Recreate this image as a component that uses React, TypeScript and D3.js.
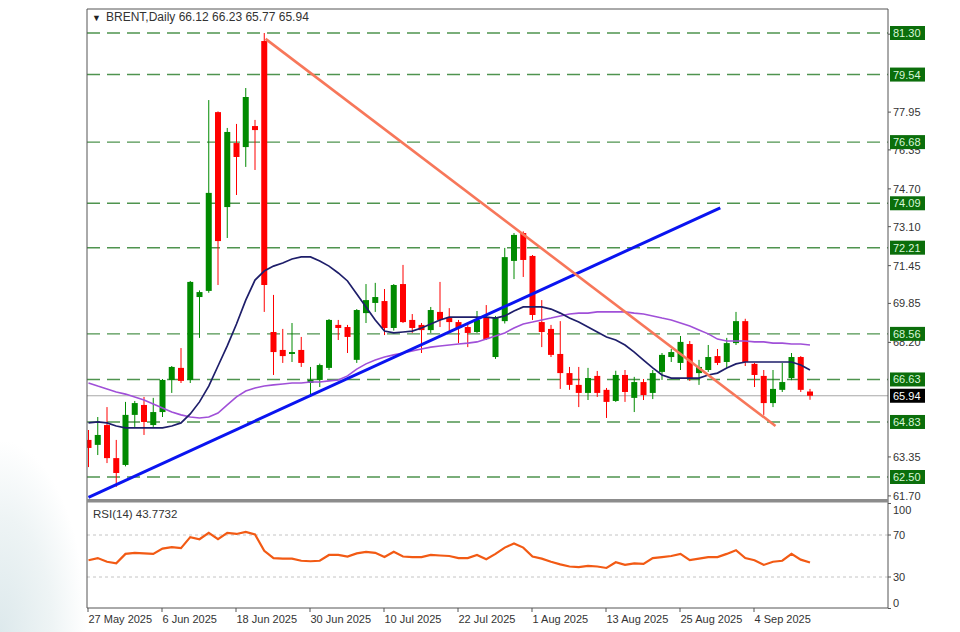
import React from 'react';
import * as d3 from 'd3';

// ---- data (daily bars, index 0 = 27 May 2025) ----
const opens = [64.07,63.86,64.70,63.30,63.01,65.13,65.55,64.70,65.25,66.61,67.12,66.61,70.12,70.38,77.95,73.93,76.64,76.47,77.36,80.96,
  68.64,67.88,67.71,67.88,66.48,66.61,67.12,68.94,68.85,67.46,69.44,69.87,69.95,68.81,70.67,69.15,68.94,68.72,69.49,69.23,
  69.06,68.85,68.64,69.27,67.58,69.10,71.65,72.83,71.86,69.06,68.77,67.71,66.90,66.40,66.06,66.78,66.19,65.72,66.82,65.85,
  66.52,66.06,66.95,67.58,67.33,68.13,66.90,67.03,67.62,67.37,68.17,69.10,67.29,66.78,65.63,66.19,66.69,67.58,66.12];
const highs = [64.49,65.04,65.46,64.07,65.68,65.72,65.89,65.85,66.65,67.20,67.96,70.80,70.40,78.46,77.98,77.28,77.45,78.97,77.62,81.30,
  70.21,68.77,69.02,68.43,67.16,67.30,69.19,69.15,68.94,69.61,70.67,70.72,70.46,70.67,71.48,69.40,69.02,69.70,70.76,69.65,
  69.15,69.02,69.53,69.78,69.32,72.20,72.83,72.90,71.90,69.99,68.94,69.10,67.16,67.16,67.12,66.99,66.27,67.00,67.03,66.74,
  66.65,67.03,67.75,67.92,68.47,68.26,67.46,68.09,67.92,68.39,69.49,69.20,67.33,67.03,67.03,67.33,67.75,67.62,66.23];
const lows = [62.92,63.43,63.09,62.08,62.95,64.62,64.28,64.62,65.04,66.06,66.48,66.48,68.39,70.30,70.63,72.62,74.44,75.63,75.50,69.49,
  66.82,67.33,67.37,67.16,65.89,66.31,67.03,68.30,67.75,67.33,69.02,69.49,68.51,68.70,69.02,68.60,67.75,68.60,68.85,68.64,
  68.17,68.00,68.60,68.30,67.50,69.00,70.88,70.97,69.15,68.00,67.58,66.23,66.19,65.46,65.76,65.89,65.00,65.68,65.68,65.25,
  65.76,65.80,66.61,67.37,67.03,66.57,66.40,66.95,67.24,67.12,68.09,67.20,66.31,65.13,65.46,66.10,66.60,66.10,65.77];
const closes = [63.73,64.28,63.30,62.67,65.13,65.63,64.83,65.25,66.61,67.16,66.57,70.76,70.33,74.53,72.49,77.11,76.05,78.59,77.19,70.63,
  67.79,67.62,67.79,67.33,66.61,67.24,69.15,68.81,68.43,69.57,69.99,70.12,68.81,70.63,69.06,68.81,68.72,69.57,69.15,69.06,
  68.81,68.60,69.15,68.34,69.27,71.81,72.75,71.69,69.36,68.64,67.67,66.90,66.40,66.06,66.69,66.06,65.68,66.82,66.10,66.52,
  65.97,66.90,67.67,67.79,68.22,66.69,67.16,67.58,67.33,68.17,69.10,67.37,66.82,65.63,66.23,66.52,67.58,66.19,65.94];
const maFast = [64.79,64.83,64.79,64.66,64.58,64.58,64.58,64.58,64.58,64.66,64.79,65.17,65.68,66.35,67.20,68.05,68.98,69.99,70.84,71.22,
  71.43,71.56,71.73,71.82,71.82,71.65,71.43,71.14,70.80,70.25,69.70,69.15,68.68,68.60,68.64,68.68,68.81,68.98,69.15,69.27,
  69.27,69.27,69.27,69.27,69.23,69.32,69.53,69.70,69.70,69.70,69.61,69.44,69.23,69.06,68.85,68.64,68.43,68.30,68.09,67.79,
  67.45,67.12,66.82,66.69,66.69,66.69,66.69,66.82,66.90,67.12,67.29,67.37,67.37,67.37,67.37,67.37,67.37,67.24,67.03];
const maSlow = [66.48,66.35,66.23,66.10,66.01,65.89,65.76,65.59,65.42,65.25,65.13,65.04,65.00,65.04,65.21,65.55,65.89,66.14,66.27,66.35,
  66.40,66.44,66.48,66.48,66.52,66.52,66.57,66.61,66.78,67.07,67.29,67.45,67.58,67.67,67.75,67.84,67.92,68.00,68.05,68.09,
  68.13,68.17,68.22,68.34,68.47,68.60,68.81,68.98,69.06,69.15,69.23,69.32,69.40,69.44,69.44,69.49,69.49,69.49,69.49,69.44,
  69.40,69.32,69.23,69.15,69.02,68.89,68.72,68.56,68.34,68.26,68.26,68.26,68.22,68.22,68.17,68.17,68.13,68.13,68.09];
const rsi = [46,48,44.5,43,52,53,52.5,52,57,58.5,57.5,68,66,72,66,72,71,73,70.5,55,
  48,47.5,47.5,45.5,45,45.5,51,51,49.5,52.5,54,53,49,54,49.5,49,49,51,50.5,50,
  48,48,51,47,52,58,62,58,49.5,47.5,44.5,42,40,39.5,40.5,40,38.6,44,41.5,43,
  42.5,48,49,50,52,46,47.5,49,49,52,55.5,48,46,41.5,44.5,45.5,52,46.5,43.7732];
const levels = [81.30,79.54,76.68,74.09,72.21,68.56,66.63,64.83,62.50];
const priceTicks = [81.25,77.95,76.35,74.70,73.10,71.45,69.85,68.20,63.35,61.70];
const rsiTicks = [100,70,30,0];
const rsiLevels = [70,30];
const dateLabels = ['27 May 2025','6 Jun 2025','18 Jun 2025','30 Jun 2025','10 Jul 2025','22 Jul 2025','1 Aug 2025','13 Aug 2025','25 Aug 2025','4 Sep 2025'];
const dateIdx = [0,8,16,24,32,40,48,56,64,72];
const upTrend = [[0,61.64],[68.3,73.90]];
const downTrend = [[19.14,81.05],[74.27,64.66]];
const lastPrice = 65.94;

const FONT = 'Liberation Sans, Arial, sans-serif';

export default function App() {
  const L = 87, R = 888, T = 9, MB = 499, RT = 503, RB = 608;
  const x = d3.scaleLinear().domain([0, 78]).range([88.5, 810]);
  const y = d3.scaleLinear().domain([62.5, 81.3]).range([477, 33]);
  const yr = d3.scaleLinear().domain([0, 100]).range([608.5, 503.5]);
  const bw = 6;

  const line = d3.line<number>().x((_, i) => x(i)).y(d => y(d));
  const rsiLine = d3.line<number>().x((_, i) => x(i)).y(d => yr(d));
  const tl = d3.line<number[]>().x(d => x(d[0])).y(d => y(d[1]));

  return (
    <svg width={960} height={632} style={{ position: 'absolute', left: 0, top: 0, background: '#fff' }} fontFamily={FONT}>
      <defs>
        <clipPath id="mainClip"><rect x={L} y={T} width={R - L} height={MB - T} /></clipPath>
        <clipPath id="rsiClip"><rect x={L} y={RT} width={R - L} height={RB - RT} /></clipPath>
        <radialGradient id="bgL" cx="0" cy="1" r="1">
          <stop offset="0" stopColor="#dde9ec" />
          <stop offset="0.6" stopColor="#eef4f5" />
          <stop offset="1" stopColor="#ffffff" />
        </radialGradient>
      </defs>
      <rect x={0} y={0} width={960} height={632} fill="#fff" />
      <rect x={0} y={440} width={87} height={192} fill="url(#bgL)" />
      <rect x={L} y={T} width={R - L} height={RB - T} fill="#fff" />

      {/* main panel */}
      <g clipPath="url(#mainClip)">
        {levels.map((v, k) => (
          <line key={'lv' + k} x1={L} x2={R} y1={y(v)} y2={y(v)} stroke="#4f944f" strokeWidth={1.4} strokeDasharray="13,7" />
        ))}
        <line x1={L} x2={R} y1={y(lastPrice)} y2={y(lastPrice)} stroke="#a8a8a8" strokeWidth={1} />
        {opens.map((o, i) => {
          const c = closes[i];
          const up = c >= o;
          const col = up ? '#008a00' : '#ff0000';
          const top = y(Math.max(o, c));
          const h = Math.max(1, Math.abs(y(o) - y(c)));
          return (
            <g key={'c' + i}>
              <line x1={x(i)} x2={x(i)} y1={y(highs[i])} y2={y(lows[i])} stroke={col} strokeWidth={1} />
              <rect x={x(i) - bw / 2} y={top} width={bw} height={h} fill={col} />
            </g>
          );
        })}
        <path d={line(maSlow) || ''} fill="none" stroke="#a050d8" strokeWidth={1.6} />
        <path d={line(maFast) || ''} fill="none" stroke="#1e1e6a" strokeWidth={1.7} />
        <path d={tl(upTrend) || ''} fill="none" stroke="#0a14f0" strokeWidth={3} />
        <path d={tl(downTrend) || ''} fill="none" stroke="#f7775a" strokeWidth={2.6} />
      </g>

      {/* RSI panel */}
      <g clipPath="url(#rsiClip)">
        {rsiLevels.map((v, k) => (
          <line key={'rl' + k} x1={L} x2={R} y1={yr(v)} y2={yr(v)} stroke="#c4c4c4" strokeWidth={1} strokeDasharray="3,3" />
        ))}
        <path d={rsiLine(rsi) || ''} fill="none" stroke="#f25a14" strokeWidth={2.2} />
      </g>

      {/* frames */}
      <line x1={L} x2={L} y1={T} y2={RB} stroke="#555" strokeWidth={1} />
      <line x1={L} x2={R} y1={T} y2={T} stroke="#555" strokeWidth={1} />
      <line x1={R} x2={R} y1={T} y2={RB} stroke="#555" strokeWidth={1} />
      <line x1={L} x2={R} y1={RB} y2={RB} stroke="#555" strokeWidth={1} />
      <rect x={L} y={MB} width={R - L} height={3.5} fill="#8c8c8c" />

      {/* price axis ticks */}
      {priceTicks.map((v, k) => (
        <g key={'pt' + k}>
          <line x1={R} x2={R + 3} y1={y(v)} y2={y(v)} stroke="#555" />
          <text x={R + 5} y={y(v) + 4} fontSize={11} fill="#333">{v.toFixed(2)}</text>
        </g>
      ))}
      {levels.map((v, k) => (
        <g key={'ll' + k}>
          <rect x={R + 2} y={y(v) - 7} width={35} height={14} fill="#0b6e0b" />
          <text x={R + 5} y={y(v) + 4} fontSize={11} fill="#d9f7d9">{v.toFixed(2)}</text>
        </g>
      ))}
      <rect x={R + 2} y={y(lastPrice) - 7} width={35} height={14} fill="#000" />
      <text x={R + 5} y={y(lastPrice) + 4} fontSize={11} fill="#fff">{lastPrice.toFixed(2)}</text>

      {/* RSI axis */}
      {rsiTicks.map((v, k) => {
        const yy = v === 100 ? yr(v) + 6 : v === 0 ? yr(v) - 6 : yr(v);
        return (
          <g key={'rt' + k}>
            <line x1={R} x2={R + 3} y1={yr(v)} y2={yr(v)} stroke="#555" />
            <text x={R + 5} y={yy + 4} fontSize={11} fill="#333">{v}</text>
          </g>
        );
      })}

      {/* date axis */}
      {dateIdx.map((i, k) => (
        <g key={'d' + k}>
          <line x1={x(i) - 0.5} x2={x(i) - 0.5} y1={RB} y2={RB + 4} stroke="#555" />
          <text x={x(i)} y={623} fontSize={11} fill="#333">{dateLabels[k]}</text>
        </g>
      ))}

      {/* titles */}
      <text x={92} y={21} fontSize={9} fill="#222">▼</text>
      <text x={106} y={21} fontSize={12} fill="#333">BRENT,Daily  66.12 66.23 65.77 65.94</text>
      <text x={93} y={518} fontSize={11.5} fill="#333">RSI(14) 43.7732</text>
    </svg>
  );
}
